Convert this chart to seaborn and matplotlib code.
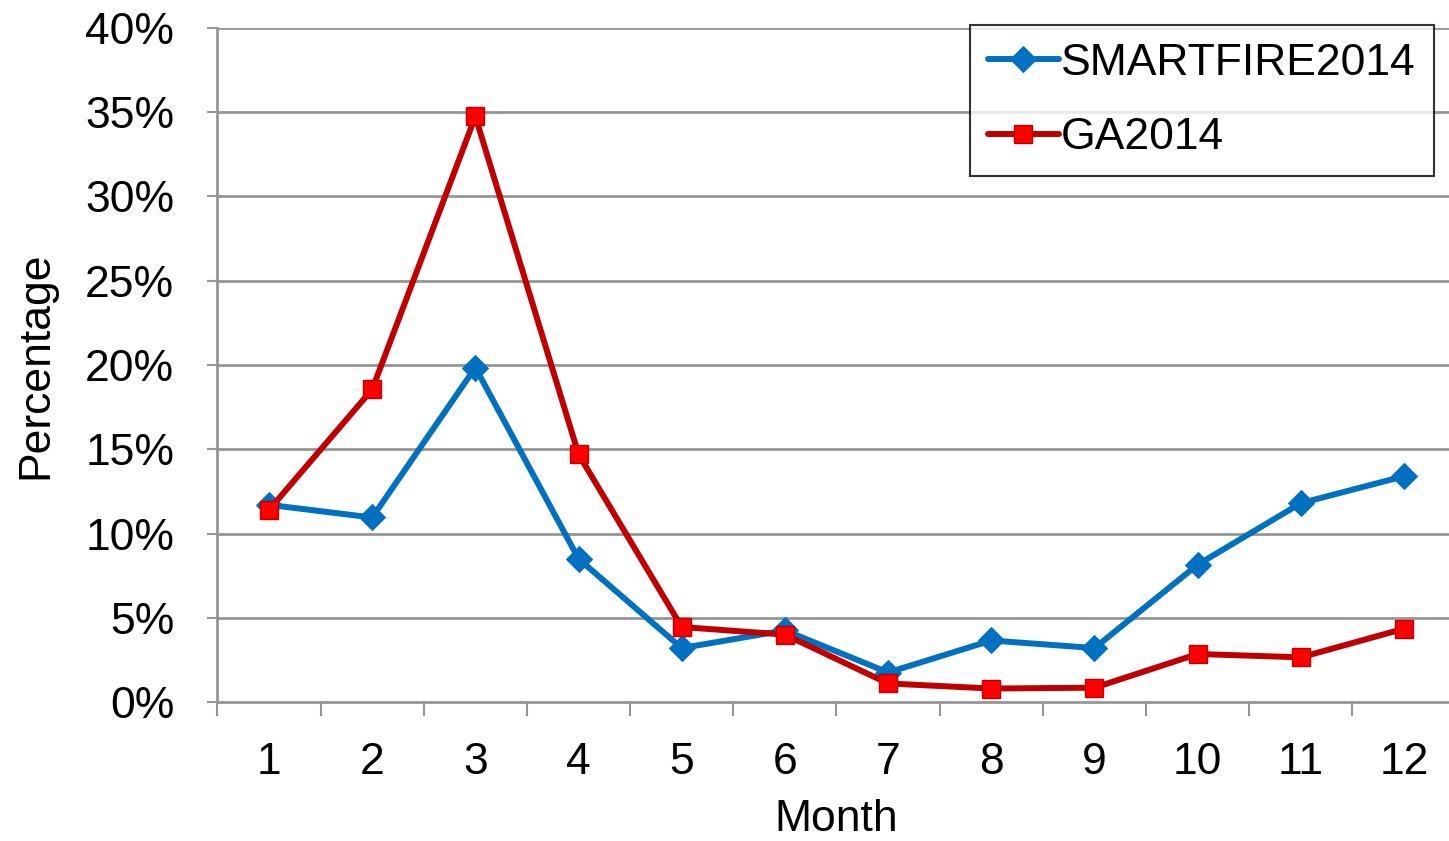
import matplotlib
matplotlib.use("Agg")
import matplotlib.pyplot as plt
import seaborn as sns
import numpy as np
from matplotlib.ticker import FixedLocator, FuncFormatter

months = [1, 2, 3, 4, 5, 6, 7, 8, 9, 10, 11, 12]
smartfire = [11.7, 10.95, 19.85, 8.5, 3.2, 4.25, 1.75, 3.65, 3.2, 8.15, 11.8, 13.4]
ga = [11.4, 18.55, 34.75, 14.7, 4.45, 4.0, 1.1, 0.8, 0.85, 2.85, 2.65, 4.35]
series_names = ["SMARTFIRE2014", "GA2014"]

sns.set_theme(style="white")
plt.rcParams['font.family'] = ['Liberation Sans', 'DejaVu Sans']
plt.rcParams['text.color'] = 'black'
plt.rcParams['axes.labelcolor'] = 'black'
plt.rcParams['xtick.labelcolor'] = 'black'
plt.rcParams['ytick.labelcolor'] = 'black'

FS = 32

fig = plt.figure(figsize=(14.49, 8.41), dpi=100)
ax = fig.add_axes([217.4 / 1449, 1 - 702 / 841, (1455.6 - 217.4) / 1449, (702 - 28) / 841])

grid_c = "#969696"
for y in range(5, 45, 5):
    ax.axhline(y, color=grid_c, lw=2, zorder=0)

sns.lineplot(x=months, y=smartfire, ax=ax, color="#0070C0", lw=4.3, marker="D",
             markersize=13, markeredgecolor="#0070C0", markerfacecolor="#0070C0",
             label=series_names[0], zorder=3)
sns.lineplot(x=months, y=ga, ax=ax, color="#C00000", lw=4.3, marker="s",
             markersize=13, markeredgecolor="#C00000", markeredgewidth=1,
             markerfacecolor="#FF0000", label=series_names[1], zorder=4)

ax.set_xlim(0.5, 12.5)
ax.set_ylim(0, 40)
ax.xaxis.set_major_locator(FixedLocator(months))
ax.set_xticklabels([str(m) for m in months])
ax.xaxis.set_minor_locator(FixedLocator(np.arange(0.5, 13, 1)))
ax.tick_params(axis="x", which="major", length=0, pad=29, labelsize=FS)
ax.tick_params(axis="x", which="minor", length=10, width=1.5, color=grid_c, direction="out", bottom=True)
ax.yaxis.set_major_locator(FixedLocator(range(0, 45, 5)))
ax.yaxis.set_major_formatter(FuncFormatter(lambda v, p: f"{int(v)}%"))
ax.tick_params(axis="y", which="major", length=7, width=1.5, color=grid_c, direction="out", left=True,
               pad=24, labelsize=FS)

for s in ["top", "right"]:
    ax.spines[s].set_visible(False)
for s in ["left", "bottom"]:
    ax.spines[s].set_color(grid_c)
    ax.spines[s].set_linewidth(2)

ax.set_xlabel("Month", fontsize=FS, labelpad=11)
ax.set_ylabel("Percentage", fontsize=FS, labelpad=21)

leg = ax.legend(loc="upper left", bbox_to_anchor=(970 / 1449, 1 - 25 / 841),
                bbox_transform=fig.transFigure, fontsize=FS, frameon=True,
                fancybox=False, edgecolor="black", handlelength=1.6, handletextpad=0.05,
                borderpad=0.4, labelspacing=0.75, borderaxespad=0)
leg.get_frame().set_linewidth(1.5)

fig.savefig("out.png", dpi=100)
